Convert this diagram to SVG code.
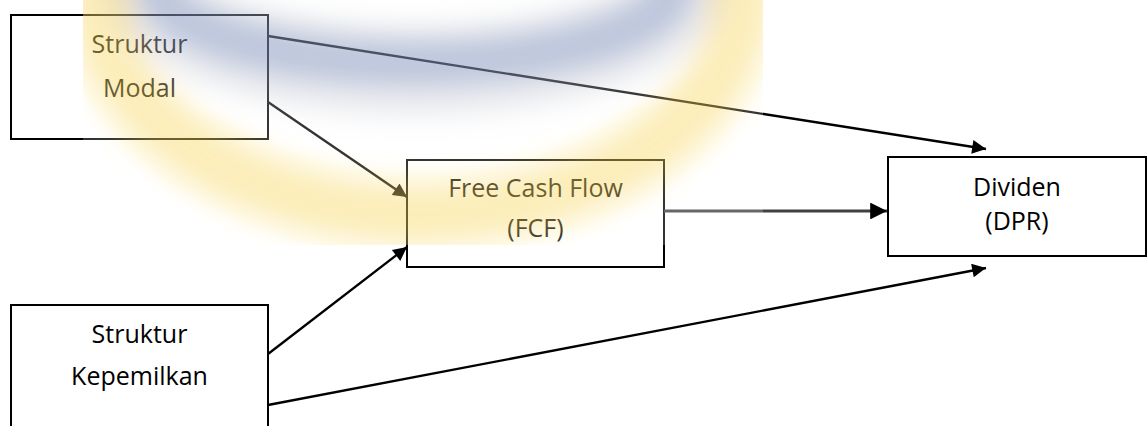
<svg xmlns="http://www.w3.org/2000/svg" width="1148" height="426" viewBox="0 0 1148 426">
<style>
.box{fill:#fff;stroke:#000;stroke-width:2}
.lbl{font-family:"Open Sans","Liberation Sans",sans-serif;font-size:25px;fill:#000;text-anchor:middle}
.con{stroke:#000;stroke-width:2.3;fill:none;marker-end:url(#ah)}
</style>
<defs>
<marker id="ah" viewBox="0 0 10 10" refX="10" refY="5" markerWidth="7.5" markerHeight="6" markerUnits="strokeWidth" orient="auto">
<path d="M0,0 L10,5 L0,10 z" fill="#000"/>
</marker>
<clipPath id="wm"><rect x="83" y="0" width="680" height="245"/></clipPath>
<filter id="bl" x="-30%" y="-30%" width="160%" height="160%"><feGaussianBlur stdDeviation="13"/></filter>
</defs>
<rect width="1148" height="426" fill="#fff"/>
<g id="n1"><rect class="box" x="11" y="15" width="257" height="124"/>
<text class="lbl" x="139.5" y="53">Struktur</text><text class="lbl" x="139.5" y="97">Modal</text></g>
<g id="n2"><rect class="box" x="407" y="160" width="257" height="107"/>
<text class="lbl" x="535.5" y="197">Free Cash Flow</text><text class="lbl" x="535.5" y="237">(FCF)</text></g>
<g id="n3"><rect class="box" x="888" y="157" width="258" height="99"/>
<text class="lbl" x="1017" y="196">Dividen</text><text class="lbl" x="1017" y="230">(DPR)</text></g>
<g id="n4"><rect class="box" x="11" y="305" width="257" height="130"/>
<text class="lbl" x="139.5" y="343">Struktur</text><text class="lbl" x="139.5" y="385">Kepemilkan</text></g>
<g id="connectors">
<line class="con" x1="268" y1="36" x2="986" y2="149"/>
<line class="con" x1="268" y1="102" x2="407" y2="197"/>
<line class="con" x1="664" y1="211" x2="887" y2="211" style="stroke:#404040;stroke-width:2.8"/>
<line class="con" x1="268" y1="354" x2="407" y2="247"/>
<line class="con" x1="268" y1="405" x2="986" y2="268"/>
</g>
<g id="watermark" clip-path="url(#wm)">
<rect x="83" y="0" width="680" height="245" fill="#fff" opacity="0.2"/>
<g filter="url(#bl)">
<ellipse cx="415" cy="-25" rx="270" ry="95" fill="none" stroke="#9aa0b0" stroke-width="90" opacity="0.22"/>
<ellipse cx="415" cy="-15" rx="258" ry="78" fill="none" stroke="#4a64ae" stroke-width="45" opacity="0.28"/>
<ellipse cx="420" cy="-8" rx="322" ry="222" fill="none" stroke="#f5c81e" stroke-width="64" opacity="0.3"/>
</g>
</g>
</svg>
